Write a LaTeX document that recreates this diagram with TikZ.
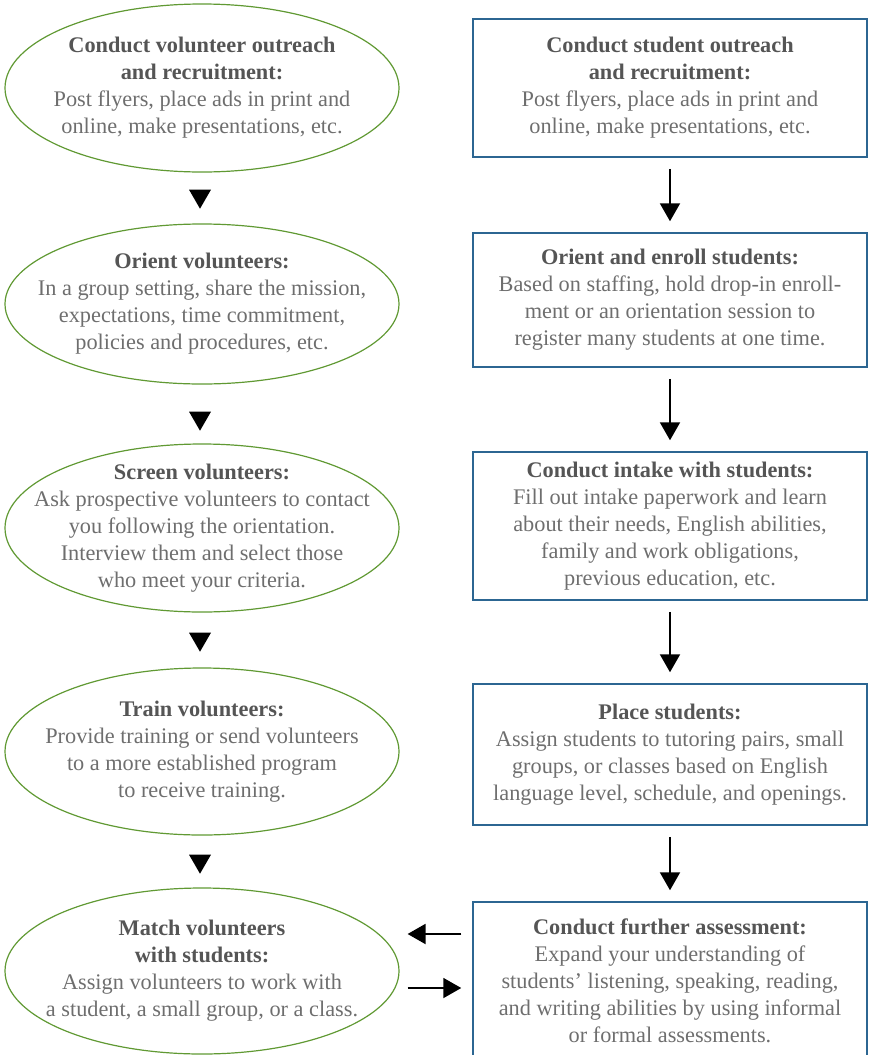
\documentclass[tikz,border=0pt]{standalone}
\usepackage{fontspec}
\setmainfont{Liberation Serif}
\usepackage{tikz}
\usetikzlibrary{arrows.meta}
\usetikzlibrary{shapes.geometric}

\definecolor{volgreen}{RGB}{96,153,51}
\definecolor{stublue}{RGB}{44,102,146}
\definecolor{titlegray}{RGB}{85,85,85}
\definecolor{bodygray}{RGB}{110,110,110}
\newcommand{\steptitle}[1]{\textcolor{titlegray}{\textbf{#1}}}

\begin{document}
\begin{tikzpicture}[x=0.5pt,y=-0.5pt,
  vol/.style={ellipse,draw=volgreen,line width=0.6pt,minimum width=197pt,minimum height=84pt,inner sep=0pt},
  voltext/.style={align=center,inner sep=0pt,text=bodygray,font=\fontsize{11.15pt}{13.5pt}\selectfont},
  stu/.style={rectangle,draw=stublue,line width=0.75pt,minimum width=197pt,inner sep=0pt,align=center,text=bodygray,font=\fontsize{11.15pt}{13.5pt}\selectfont},
  tri/.style={regular polygon,regular polygon sides=3,shape border rotate=180,fill=black,inner sep=0pt,minimum size=12.7pt},
  arr/.style={-{Triangle[width=10pt,length=9pt]},line width=1pt,shorten <=5.5pt,shorten >=5.5pt}]
  \useasboundingbox (0,0) rectangle (869,1055);

  % volunteer side
  \node[vol] (V1) at (202,88) {};
  \node[voltext] (V1t) at (V1) {\steptitle{Conduct volunteer outreach}\\\steptitle{and recruitment:}\\Post flyers, place ads in print and\\online, make presentations, etc.};
  \node[tri] (T1) at (200,196) {};
  \node[vol,minimum height=80pt] (V2) at (202,304) {};
  \node[voltext] (V2t) at (V2) {\steptitle{Orient volunteers:}\\In a group setting, share the mission,\\expectations, time commitment,\\policies and procedures, etc.};
  \node[tri] (T2) at (200,418) {};
  \node[vol] (V3) at (202,528) {};
  \node[voltext] (V3t) at (V3) {\steptitle{Screen volunteers:}\\Ask prospective volunteers to contact\\you following the orientation.\\Interview them and select those\\who meet your criteria.};
  \node[tri] (T3) at (200,639) {};
  \node[vol,minimum height=83.5pt] (V4) at (202,751.5) {};
  \node[voltext] (V4t) at (V4) {\steptitle{Train volunteers:}\\Provide training or send volunteers\\to a more established program\\to receive training.};
  \node[tri] (T4) at (200,861) {};
  \node[vol,minimum height=83pt] (V5) at (202,971) {};
  \node[voltext] (V5t) at (V5) {\steptitle{Match volunteers}\\\steptitle{with students:}\\Assign volunteers to work with\\a student, a small group, or a class.};

  % student side
  \node[stu,minimum height=69pt] (S1) at (670,88) {\steptitle{Conduct student outreach}\\\steptitle{and recruitment:}\\Post flyers, place ads in print and\\online, make presentations, etc.};
  \node[stu,minimum height=67pt] (S2) at (670,300) {\steptitle{Orient and enroll students:}\\Based on staffing, hold drop-in enroll-\\ment or an orientation session to\\register many students at one time.};
  \node[stu,minimum height=74pt] (S3) at (670,526) {\steptitle{Conduct intake with students:}\\Fill out intake paperwork and learn\\about their needs, English abilities,\\family and work obligations,\\previous education, etc.};
  \node[stu,minimum height=70.5pt] (S4) at (670,754.5) {\steptitle{Place students:}\\Assign students to tutoring pairs, small\\groups, or classes based on English\\language level, schedule, and openings.};
  \node[stu,minimum height=79pt] (S5) at (670,981) {\steptitle{Conduct further assessment:}\\Expand your understanding of\\students' listening, speaking, reading,\\and writing abilities by using informal\\or formal assessments.};

  \draw[arr] (S1) -- (S2);
  \draw[arr] (S2) -- (S3);
  \draw[arr] (S3) -- (S4);
  \draw[arr] (S4) -- (S5);
  \draw[arr,shorten >=4pt] (S5.west |- 0,934) -- (V5.east |- 0,934);
  \draw[arr,shorten <=4pt] (V5.east |- 0,988) -- (S5.west |- 0,988);
\end{tikzpicture}
\end{document}
